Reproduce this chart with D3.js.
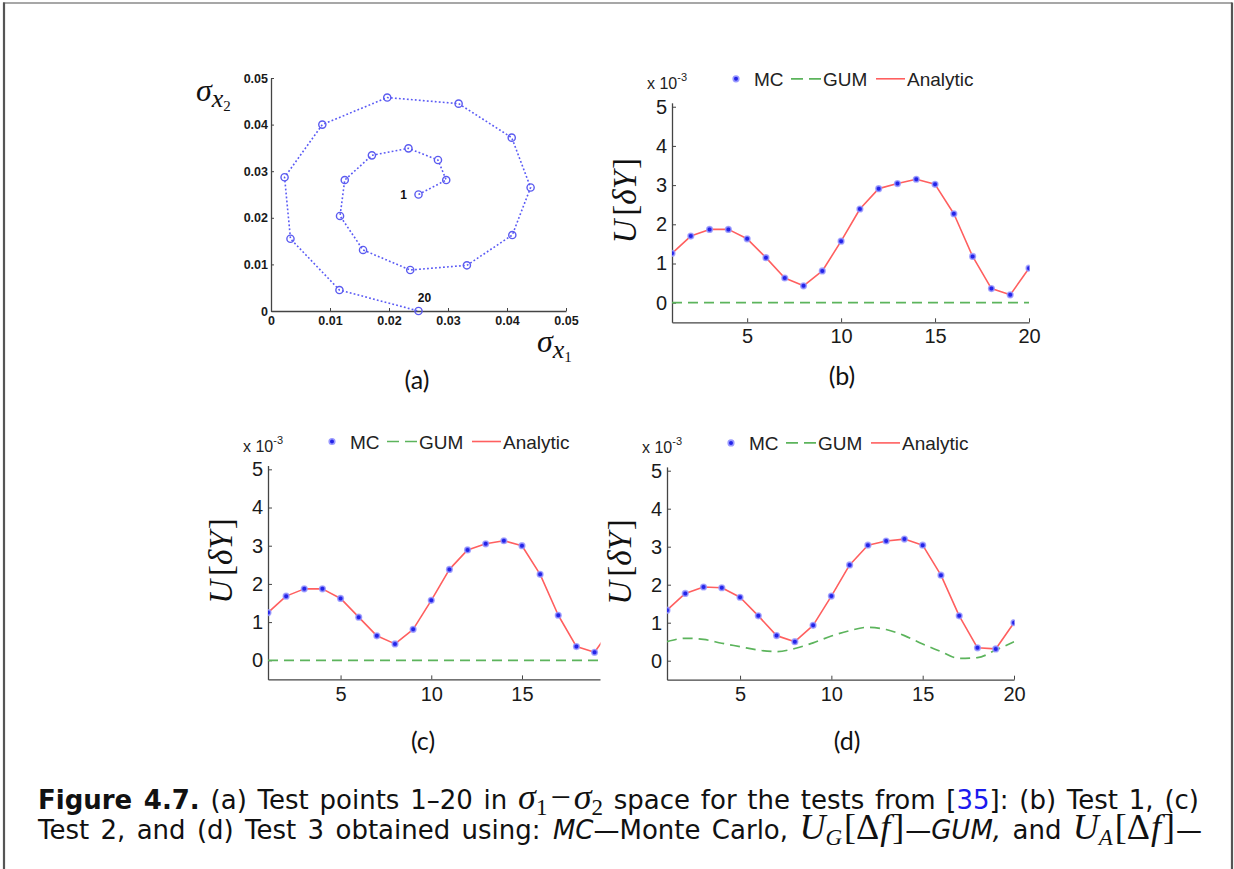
<!DOCTYPE html>
<html>
<head>
<meta charset="utf-8">
<script src="https://cdn.jsdelivr.net/npm/d3@7"></script>
<style>
  body { margin: 0; background: #fff; }
  svg { display: block; }
</style>
</head>
<body>
<svg id="fig" width="1234" height="869"></svg>
<script>
// ---- data ----
// (a) test points in sigma_x1 / sigma_x2 space, point 1 .. 20
const spiralX = [0.0250, 0.0297, 0.0283, 0.0233, 0.0171, 0.0125, 0.0117, 0.0156, 0.0236, 0.0332,
                 0.0409, 0.0440, 0.0408, 0.0318, 0.0197, 0.0087, 0.0023, 0.0033, 0.0116, 0.0250]
const spiralY = [0.0250, 0.0281, 0.0324, 0.0349, 0.0334, 0.0281, 0.0204, 0.0131, 0.0088, 0.0098,
                 0.0163, 0.0265, 0.0372, 0.0445, 0.0458, 0.0400, 0.0287, 0.0155, 0.0045, 0.0000]
const spiralTicks = [0, 0.01, 0.02, 0.03, 0.04, 0.05]

// (b)-(d) test index and U[dY] (x 10^-3)
const testPoints = [1, 2, 3, 4, 5, 6, 7, 8, 9, 10, 11, 12, 13, 14, 15, 16, 17, 18, 19, 20]
const mcB = [1.26, 1.70, 1.87, 1.87, 1.63, 1.15, 0.63, 0.43, 0.81, 1.57, 2.39, 2.91, 3.04, 3.15, 3.02, 2.27, 1.18, 0.36, 0.20, 0.88]
const analyticB = [1.26, 1.70, 1.87, 1.87, 1.63, 1.15, 0.63, 0.43, 0.81, 1.57, 2.39, 2.91, 3.04, 3.15, 3.02, 2.27, 1.18, 0.36, 0.20, 0.88]
const gumB = [0, 0, 0, 0, 0, 0, 0, 0, 0, 0, 0, 0, 0, 0, 0, 0, 0, 0, 0, 0]
const mcC = [1.25, 1.68, 1.87, 1.87, 1.62, 1.13, 0.64, 0.43, 0.81, 1.57, 2.38, 2.89, 3.05, 3.13, 3.00, 2.25, 1.18, 0.36, 0.21, 0.88]
const analyticC = [1.25, 1.68, 1.87, 1.87, 1.62, 1.13, 0.64, 0.43, 0.81, 1.57, 2.38, 2.89, 3.05, 3.13, 3.00, 2.25, 1.18, 0.36, 0.21, 0.88]
const gumC = [0, 0, 0, 0, 0, 0, 0, 0, 0, 0, 0, 0, 0, 0, 0, 0, 0, 0, 0, 0]
const mcD = [1.33, 1.77, 1.94, 1.92, 1.67, 1.18, 0.66, 0.50, 0.93, 1.70, 2.52, 3.04, 3.15, 3.20, 3.04, 2.25, 1.18, 0.34, 0.31, 1.00]
const analyticD = [1.33, 1.77, 1.94, 1.92, 1.67, 1.18, 0.66, 0.50, 0.93, 1.70, 2.52, 3.04, 3.15, 3.20, 3.04, 2.25, 1.18, 0.34, 0.31, 1.00]
const gumD = [0.50, 0.59, 0.56, 0.46, 0.37, 0.28, 0.24, 0.32, 0.47, 0.65, 0.79, 0.88, 0.82, 0.66, 0.44, 0.24, 0.06, 0.08, 0.28, 0.50]
const xTicks = [5, 10, 15, 20]
const yTicks = [0, 1, 2, 3, 4, 5]
const legendLabels = ["MC", "GUM", "Analytic"]

const AXIS = "#444"
const TICK_TXT = "#1a1a1a"
const BLUE = "#2424e8"
const GREEN = "#5cb45c"
const RED = "#ff5f5f"
const SERIF = "Liberation Serif, serif"

var svg = d3.select("#fig")

// frame of the page scan
svg.append("line").attr("x1", 3).attr("x2", 1232).attr("y1", 3).attr("y2", 3)
    .attr("stroke", "#8a8a8a").attr("stroke-width", 1.5)
svg.append("line").attr("x1", 4).attr("x2", 4).attr("y1", 2.5).attr("y2", 869)
    .attr("stroke", "#555").attr("stroke-width", 2.2)
svg.append("line").attr("x1", 1232).attr("x2", 1232).attr("y1", 2.5).attr("y2", 869)
    .attr("stroke", "#555").attr("stroke-width", 2.2)

function styleAxis(sel, size, weight) {
    sel.select(".domain").attr("stroke", AXIS).attr("stroke-width", 1.3)
    sel.selectAll(".tick line").attr("stroke", AXIS).attr("stroke-width", 1)
    sel.selectAll(".tick text")
        .attr("fill", TICK_TXT)
        .attr("font-family", "Liberation Sans, Arial, sans-serif")
        .attr("font-size", size)
        .attr("font-weight", weight)
}

// ---- panel (a) ----
function drawSpiral() {
    var g = svg.append("g")
    var x = d3.scaleLinear().domain([0, 0.05]).range([271, 566])
    var y = d3.scaleLinear().domain([0, 0.05]).range([311, 78])
    var fmt = d => d === 0 ? "0" : d.toFixed(2)

    g.append("g").attr("transform", "translate(0," + y(0) + ")")
        .call(d3.axisBottom(x).tickValues(spiralTicks).tickFormat(fmt).tickSizeInner(-3).tickSizeOuter(0).tickPadding(5))
        .call(s => styleAxis(s, 12.5, "bold"))
    g.append("g").attr("transform", "translate(" + x(0) + ",0)")
        .call(d3.axisLeft(y).tickValues(spiralTicks).tickFormat(fmt).tickSizeInner(-3).tickSizeOuter(0).tickPadding(3))
        .call(s => styleAxis(s, 12.5, "bold"))

    var pts = spiralX.map((v, i) => [v, spiralY[i]])
    g.append("path")
        .attr("d", d3.line().x(d => x(d[0])).y(d => y(d[1]))(pts))
        .attr("fill", "none")
        .attr("stroke", "#5a5af5")
        .attr("stroke-width", 1.6)
        .attr("stroke-dasharray", "1.8,2.2")
    g.selectAll("circle.pt").data(pts).enter().append("circle")
        .attr("class", "pt")
        .attr("cx", d => x(d[0]))
        .attr("cy", d => y(d[1]))
        .attr("r", 3.6)
        .attr("fill", "none")
        .attr("stroke", "#5b5bf0")
        .attr("stroke-width", 1.4)

    var lbl = g.append("g").attr("font-family", "Liberation Sans, Arial, sans-serif")
        .attr("font-weight", "bold").attr("font-size", 12).attr("fill", "#111")
    lbl.append("text").attr("x", x(spiralX[0]) - 15).attr("y", y(spiralY[0]) + 4.5)
        .attr("text-anchor", "middle").text("1")
    lbl.append("text").attr("x", x(spiralX[19]) + 6).attr("y", y(spiralY[19]) - 9.5)
        .attr("text-anchor", "middle").text("20")

    // sigma axis labels
    var s2 = g.append("text").attr("x", 196).attr("y", 101)
        .attr("font-family", SERIF).attr("font-style", "italic").attr("fill", "#111")
    s2.append("tspan").attr("font-size", 32).text("σ")
    s2.append("tspan").attr("font-size", 26).attr("dy", 6).text("x")
    s2.append("tspan").attr("font-size", 15).attr("font-style", "normal").attr("dy", 4).text("2")

    var s1 = g.append("text").attr("x", 537).attr("y", 352)
        .attr("font-family", SERIF).attr("font-style", "italic").attr("fill", "#111")
    s1.append("tspan").attr("font-size", 32).text("σ")
    s1.append("tspan").attr("font-size", 26).attr("dy", 6).text("x")
    s1.append("tspan").attr("font-size", 15).attr("font-style", "normal").attr("dy", 4).text("1")

    g.append("text").attr("x", 417).attr("y", 389).attr("text-anchor", "middle")
        .attr("font-family", "Lato, Open Sans, sans-serif").attr("font-size", 25).attr("fill", "#111")
        .text("(a)")
}

// ---- panels (b), (c), (d) ----
function drawUPanel(p) {
    var g = svg.append("g")
    var x = d3.scaleLinear().domain(p.xDomain).range(p.xRange)
    var y = d3.scaleLinear().domain([-0.5, 5.1]).range(p.yRange)
    var left = p.xRange[0], bottom = p.yRange[0], top = p.yRange[1]

    var clipId = "clip-" + p.id
    svg.append("clipPath").attr("id", clipId).append("rect")
        .attr("x", left).attr("y", top - 10)
        .attr("width", p.xRange[1] - left + 0.5).attr("height", bottom - top + 10)

    g.append("g").attr("transform", "translate(0," + bottom + ")")
        .call(d3.axisBottom(x).tickValues(xTicks.filter(v => v <= p.xDomain[1]))
            .tickFormat(d3.format("d")).tickSizeInner(-4).tickSizeOuter(0).tickPadding(7))
        .call(s => styleAxis(s, 20, "normal"))
    g.append("g").attr("transform", "translate(" + left + ",0)")
        .call(d3.axisLeft(y).tickValues(yTicks).tickFormat(d3.format("d"))
            .tickSizeInner(-4).tickSizeOuter(0).tickPadding(5))
        .call(s => styleAxis(s, 20, "normal"))

    var plot = g.append("g").attr("clip-path", "url(#" + clipId + ")")

    plot.append("path")
        .attr("d", d3.line().curve(d3.curveMonotoneX).x((d, i) => x(testPoints[i])).y(d => y(d))(p.gum))
        .attr("fill", "none").attr("stroke", GREEN).attr("stroke-width", 1.7)
        .attr("stroke-dasharray", "10,6")
    plot.append("path")
        .attr("d", d3.line().x((d, i) => x(testPoints[i])).y(d => y(d))(p.analytic))
        .attr("fill", "none").attr("stroke", RED).attr("stroke-width", 1.6)
        .attr("stroke-linejoin", "round")
    plot.selectAll("circle.mc").data(p.mc).enter().append("circle")
        .attr("class", "mc")
        .attr("cx", (d, i) => x(testPoints[i]))
        .attr("cy", d => y(d))
        .attr("r", 2.8)
        .attr("fill", BLUE)
        .attr("stroke", "#9a9aff")
        .attr("stroke-opacity", 0.8)
        .attr("stroke-width", 1.6)

    // exponent
    var ex = g.append("text").attr("x", left - 25).attr("y", top - 14)
        .attr("font-family", "Liberation Sans, Arial, sans-serif").attr("fill", "#222")
    ex.append("tspan").attr("font-size", 16).text("x 10")
    ex.append("tspan").attr("font-size", 11).attr("dy", -8).text("-3")

    // legend
    var lx = left + 64, ly = top - 24
    var lg = g.append("g").attr("font-family", "Liberation Sans, Arial, sans-serif")
        .attr("font-size", 19).attr("fill", "#222")
    lg.append("circle").attr("cx", lx).attr("cy", ly).attr("r", 2.8)
        .attr("fill", BLUE).attr("stroke", "#9a9aff").attr("stroke-width", 1.6)
    lg.append("text").attr("x", lx + 18).attr("y", ly + 7).text(legendLabels[0])
    lg.append("line").attr("x1", lx + 55).attr("x2", lx + 85).attr("y1", ly).attr("y2", ly)
        .attr("stroke", GREEN).attr("stroke-width", 1.7).attr("stroke-dasharray", "12,6")
    lg.append("text").attr("x", lx + 87).attr("y", ly + 7).text(legendLabels[1])
    lg.append("line").attr("x1", lx + 140).attr("x2", lx + 169).attr("y1", ly).attr("y2", ly)
        .attr("stroke", RED).attr("stroke-width", 1.6)
    lg.append("text").attr("x", lx + 171).attr("y", ly + 7).text(legendLabels[2])

    // y label U[dY]
    var yl = g.append("text")
        .attr("transform", "translate(" + (left - 36) + "," + y(2.6) + ") rotate(-90)")
        .attr("text-anchor", "middle")
        .attr("font-family", SERIF).attr("font-size", 33).attr("fill", "#111")
    yl.append("tspan").attr("font-style", "italic").text("U")
    yl.append("tspan").attr("dx", 4).text("[")
    yl.append("tspan").attr("font-style", "italic").text("δY")
    yl.append("tspan").attr("dx", 2).text("]")

    g.append("text").attr("x", p.label[0]).attr("y", p.label[1]).attr("text-anchor", "middle")
        .attr("font-family", "Lato, Open Sans, sans-serif").attr("font-size", 25).attr("fill", "#111")
        .text(p.name)
}

drawSpiral()
drawUPanel({ id: "b", name: "(b)", xDomain: [1, 20], xRange: [672, 1029], yRange: [322.3, 102.8],
    mc: mcB, analytic: analyticB, gum: gumB, label: [842, 385] })
drawUPanel({ id: "c", name: "(c)", xDomain: [1, 19.3], xRange: [268, 600], yRange: [679.4, 465.5],
    mc: mcC, analytic: analyticC, gum: gumC, label: [423, 750] })
drawUPanel({ id: "d", name: "(d)", xDomain: [1, 20], xRange: [667, 1014], yRange: [679.7, 466.9],
    mc: mcD, analytic: analyticD, gum: gumD, label: [847, 750] })

// ---- caption: justified paragraph built from text and math pieces ----
var cap = svg.append("g").attr("font-family", "DejaVu Sans, sans-serif").attr("font-size", 26).attr("fill", "#111")
const SPACE = 8.3

// text piece: parts = [[text, style], ...]
function tx(parts) {
    var t = cap.append("text")
    parts.forEach(function (p) {
        var s = t.append("tspan").text(p[0])
        var st = p[1] || ""
        if (st.indexOf("b") >= 0) s.attr("font-weight", "bold")
        if (st.indexOf("i") >= 0) s.attr("font-style", "italic")
        if (st.indexOf("L") >= 0) s.attr("fill", "#1a1aee")
    })
    return { node: t, spaces: (t.text().match(/ /g) || []).length }
}
// math piece: parts = [[text, italic, sub, dx], ...]
function mx(parts) {
    var t = cap.append("text").attr("font-family", SERIF)
    var down = false
    parts.forEach(function (p) {
        var s = t.append("tspan").text(p[0])
            .attr("font-style", p[1] ? "italic" : "normal")
            .attr("font-size", p[2] ? 23 : 36)
        if (p[3]) s.attr("dx", p[3])
        if (p[2] && !down) { s.attr("dy", 6); down = true }
        else if (!p[2] && down) { s.attr("dy", -6); down = false }
    })
    return { node: t, spaces: 0 }
}
// items: [piece, spaceBefore]; stretch inter-word spaces so the line runs x0 -> x1
function setLine(y0, x0, x1, items) {
    items.forEach(it => it[0].node.attr("x", 0).attr("y", y0))
    var widths = items.map(it => it[0].node.node().getBBox().width)
    var natural = d3.sum(widths) + d3.sum(items, (it, i) => i === 0 ? 0 : (it[1] ? SPACE : 1))
    var count = d3.sum(items, it => it[0].spaces) + d3.sum(items, (it, i) => (i > 0 && it[1]) ? 1 : 0)
    var s = count > 0 ? Math.max(0, (x1 - x0 - natural) / count) : 0
    var cx = x0
    items.forEach(function (it, i) {
        if (i > 0) cx += it[1] ? SPACE + s : 1
        it[0].node.attr("x", cx).attr("word-spacing", it[0].spaces ? s : null)
        cx += widths[i] + it[0].spaces * s
    })
}

setLine(809, 38, 1199, [
    [tx([["Figure 4.7.", "b"]]), false],
    [tx([["(a) Test points 1–20 in"]]), true],
    [mx([["σ", 1], ["1", 0, 1], ["−", 0, 0, 3], ["σ", 1, 0, 3], ["2", 0, 1]]), true],
    [tx([["space for the tests from ["], ["35", "L"], ["]: (b) Test 1, (c)"]]), true]
])
setLine(839, 38, 1202, [
    [tx([["Test 2, and (d) Test 3 obtained using:"]]), false],
    [tx([["MC", "i"], ["—Monte Carlo,"]]), true],
    [mx([["U", 1], ["G", 1, 1], ["[", 0, 0, 2], ["Δ", 0], ["f", 1, 0, 1], ["]", 0, 0, 2]]), true],
    [tx([["—"], ["GUM,", "i"]]), false],
    [tx([["and"]]), true],
    [mx([["U", 1], ["A", 1, 1], ["[", 0, 0, 2], ["Δ", 0], ["f", 1, 0, 1], ["]", 0, 0, 2]]), true],
    [tx([["—"]]), false]
])
</script>
</body>
</html>
